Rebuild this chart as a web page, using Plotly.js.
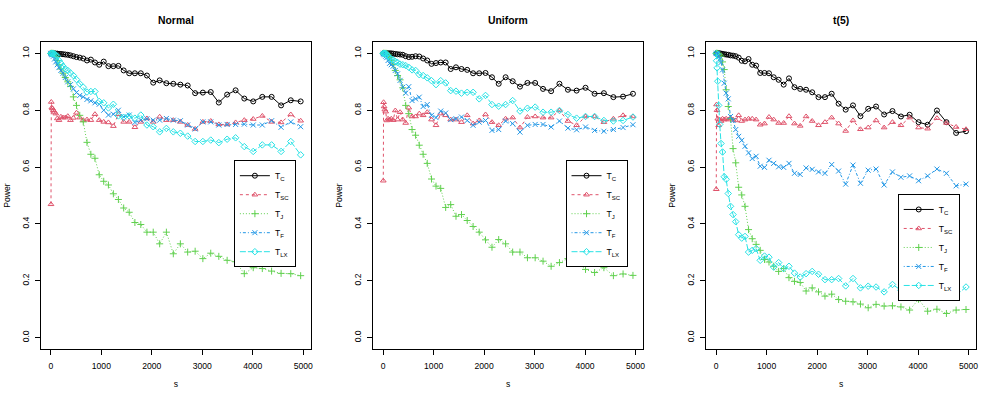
<!DOCTYPE html>
<html>
<head>
<meta charset="utf-8">
<script src="https://cdn.plot.ly/plotly-3.0.1.min.js"></script>
<style>
  html, body { margin: 0; padding: 0; background: #fff; }
  #chart { width: 996px; height: 401px; }
</style>
</head>
<body>
<div id="chart"></div>
<script>
// sample sizes (x axis)
var s = [2, 8, 18, 32, 50, 71, 97, 127, 160, 198,
	240, 285, 335, 388, 446, 507, 572, 642, 715, 792,
	873, 958, 1047, 1140, 1238, 1338, 1443, 1552, 1665, 1782,
	1903, 2028, 2156, 2289, 2426, 2566, 2711, 2859, 3012, 3168,
	3328, 3493, 3661, 3833, 4010, 4190, 4374, 4562, 4754, 4950];

// Normal
var normalTC = [1.0, 1.0, 1.0, 1.0, 1.0, 1.0, 0.999, 0.999, 0.998, 0.998,
	0.997, 0.996, 0.995, 0.993, 0.99, 0.987, 0.985, 0.982, 0.975, 0.978,
	0.968, 0.96, 0.971, 0.955, 0.955, 0.956, 0.94, 0.93, 0.93, 0.93,
	0.922, 0.897, 0.905, 0.895, 0.893, 0.89, 0.887, 0.86, 0.862, 0.864,
	0.827, 0.855, 0.87, 0.841, 0.831, 0.847, 0.847, 0.817, 0.835, 0.831];
var normalTSC = [0.469, 0.829, 0.809, 0.806, 0.8, 0.794, 0.788, 0.771, 0.765, 0.777,
	0.774, 0.774, 0.779, 0.765, 0.773, 0.791, 0.774, 0.765, 0.767, 0.765,
	0.786, 0.765, 0.759, 0.757, 0.744, 0.786, 0.759, 0.759, 0.74, 0.759,
	0.771, 0.759, 0.777, 0.765, 0.765, 0.759, 0.748, 0.734, 0.759, 0.762,
	0.75, 0.75, 0.757, 0.765, 0.769, 0.78, 0.759, 0.757, 0.785, 0.763];
var normalTJ = [1.0, 1.0, 1.0, 1.0, 1.0, 0.998, 0.99, 0.975, 0.96, 0.945,
	0.93, 0.915, 0.9, 0.884, 0.847, 0.817, 0.782, 0.759, 0.687, 0.645,
	0.631, 0.573, 0.55, 0.537, 0.506, 0.486, 0.456, 0.441, 0.405, 0.398,
	0.371, 0.371, 0.33, 0.371, 0.295, 0.33, 0.301, 0.304, 0.278, 0.297,
	0.286, 0.272, 0.267, 0.225, 0.246, 0.243, 0.234, 0.226, 0.225, 0.218];
var normalTF = [1.0, 0.999, 0.997, 0.995, 0.99, 0.98, 0.97, 0.96, 0.95, 0.94,
	0.93, 0.915, 0.9, 0.89, 0.875, 0.862, 0.852, 0.847, 0.838, 0.833,
	0.826, 0.821, 0.8, 0.783, 0.786, 0.8, 0.777, 0.783, 0.757, 0.765,
	0.77, 0.765, 0.765, 0.771, 0.765, 0.763, 0.748, 0.734, 0.759, 0.759,
	0.748, 0.75, 0.75, 0.751, 0.748, 0.748, 0.763, 0.74, 0.759, 0.742];
var normalTLX = [1.0, 1.0, 1.0, 1.0, 1.0, 0.998, 0.995, 0.99, 0.975, 0.965,
	0.955, 0.945, 0.94, 0.931, 0.922, 0.908, 0.893, 0.881, 0.864, 0.866,
	0.866, 0.831, 0.826, 0.808, 0.821, 0.78, 0.775, 0.78, 0.772, 0.783,
	0.748, 0.742, 0.724, 0.736, 0.724, 0.719, 0.709, 0.69, 0.69, 0.695,
	0.686, 0.698, 0.703, 0.672, 0.655, 0.678, 0.678, 0.655, 0.69, 0.643];

// Uniform
var unifTC = [1.0, 1.0, 1.0, 1.0, 1.0, 1.0, 1.0, 1.0, 1.0, 0.999,
	0.998, 0.997, 0.996, 0.995, 0.99, 0.987, 0.988, 0.99, 0.989, 0.982,
	0.975, 0.963, 0.966, 0.968, 0.968, 0.945, 0.951, 0.945, 0.942, 0.93,
	0.93, 0.931, 0.916, 0.893, 0.916, 0.902, 0.883, 0.896, 0.896, 0.875,
	0.867, 0.893, 0.872, 0.869, 0.879, 0.858, 0.86, 0.846, 0.848, 0.858];
var unifTSC = [0.552, 0.828, 0.813, 0.802, 0.795, 0.764, 0.77, 0.767, 0.77, 0.765,
	0.799, 0.767, 0.793, 0.767, 0.755, 0.809, 0.778, 0.778, 0.788, 0.782,
	0.793, 0.767, 0.747, 0.788, 0.782, 0.767, 0.767, 0.758, 0.782, 0.753,
	0.764, 0.785, 0.758, 0.747, 0.77, 0.774, 0.739, 0.776, 0.778, 0.774,
	0.774, 0.799, 0.762, 0.747, 0.778, 0.778, 0.758, 0.77, 0.782, 0.778];
var unifTJ = [1.0, 1.0, 1.0, 1.0, 1.0, 1.0, 0.995, 0.985, 0.975, 0.96,
	0.94, 0.922, 0.907, 0.879, 0.817, 0.788, 0.732, 0.712, 0.677, 0.645,
	0.613, 0.558, 0.533, 0.525, 0.458, 0.468, 0.427, 0.433, 0.412, 0.391,
	0.371, 0.344, 0.318, 0.345, 0.33, 0.301, 0.301, 0.281, 0.281, 0.269,
	0.251, 0.264, 0.278, 0.266, 0.24, 0.229, 0.246, 0.218, 0.224, 0.219];
var unifTF = [1.0, 0.999, 0.998, 0.995, 0.99, 0.985, 0.975, 0.965, 0.96, 0.955,
	0.94, 0.928, 0.905, 0.881, 0.86, 0.883, 0.834, 0.84, 0.846, 0.813,
	0.82, 0.782, 0.774, 0.797, 0.79, 0.767, 0.77, 0.776, 0.764, 0.747,
	0.758, 0.764, 0.729, 0.732, 0.762, 0.753, 0.723, 0.747, 0.75, 0.75,
	0.741, 0.762, 0.737, 0.731, 0.741, 0.729, 0.726, 0.732, 0.739, 0.749];
var unifTLX = [1.0, 1.0, 1.0, 1.0, 1.0, 0.995, 0.99, 0.985, 0.98, 0.977,
	0.972, 0.968, 0.962, 0.96, 0.957, 0.951, 0.942, 0.94, 0.925, 0.922,
	0.914, 0.904, 0.89, 0.904, 0.896, 0.869, 0.867, 0.86, 0.863, 0.863,
	0.84, 0.852, 0.82, 0.814, 0.82, 0.834, 0.797, 0.807, 0.811, 0.793,
	0.793, 0.799, 0.785, 0.772, 0.778, 0.778, 0.764, 0.762, 0.764, 0.776];

// t(5)
var t5TC = [1.0, 1.0, 1.0, 1.0, 1.0, 1.0, 0.999, 0.998, 0.997, 0.996,
	0.995, 0.993, 0.992, 0.99, 0.985, 0.974, 0.972, 0.98, 0.96, 0.957,
	0.931, 0.931, 0.93, 0.916, 0.907, 0.89, 0.912, 0.881, 0.875, 0.872,
	0.863, 0.846, 0.846, 0.858, 0.823, 0.802, 0.817, 0.779, 0.805, 0.813,
	0.785, 0.797, 0.778, 0.784, 0.758, 0.749, 0.799, 0.758, 0.72, 0.726];
var t5TSC = [0.522, 0.82, 0.8, 0.77, 0.747, 0.767, 0.762, 0.77, 0.767, 0.77,
	0.767, 0.772, 0.767, 0.764, 0.782, 0.762, 0.767, 0.77, 0.77, 0.767,
	0.749, 0.753, 0.776, 0.767, 0.755, 0.755, 0.779, 0.753, 0.745, 0.778,
	0.762, 0.747, 0.758, 0.774, 0.753, 0.727, 0.764, 0.733, 0.739, 0.764,
	0.739, 0.758, 0.747, 0.774, 0.739, 0.735, 0.772, 0.755, 0.741, 0.733];
var t5TJ = [1.0, 1.0, 1.0, 1.0, 0.998, 0.995, 0.99, 0.97, 0.943, 0.872,
	0.813, 0.77, 0.665, 0.615, 0.529, 0.502, 0.462, 0.38, 0.348, 0.328,
	0.307, 0.275, 0.266, 0.251, 0.233, 0.243, 0.211, 0.198, 0.194, 0.164,
	0.175, 0.161, 0.146, 0.153, 0.134, 0.128, 0.126, 0.118, 0.105, 0.117,
	0.111, 0.112, 0.108, 0.097, 0.135, 0.093, 0.1, 0.085, 0.097, 0.099];
var t5TF = [1.0, 1.0, 0.999, 0.997, 0.99, 0.98, 0.968, 0.942, 0.895, 0.86,
	0.84, 0.778, 0.764, 0.732, 0.708, 0.694, 0.673, 0.65, 0.63, 0.638,
	0.603, 0.599, 0.624, 0.613, 0.601, 0.599, 0.613, 0.578, 0.574, 0.597,
	0.592, 0.583, 0.578, 0.609, 0.586, 0.54, 0.607, 0.543, 0.589, 0.593,
	0.537, 0.583, 0.564, 0.569, 0.552, 0.569, 0.593, 0.578, 0.534, 0.54];
var t5TLX = [1.0, 0.974, 0.949, 0.902, 0.817, 0.75, 0.683, 0.653, 0.566, 0.557,
	0.507, 0.462, 0.433, 0.408, 0.362, 0.35, 0.356, 0.301, 0.307, 0.313,
	0.272, 0.287, 0.283, 0.248, 0.264, 0.243, 0.251, 0.227, 0.213, 0.225,
	0.233, 0.223, 0.204, 0.204, 0.208, 0.182, 0.208, 0.175, 0.181, 0.178,
	0.161, 0.187, 0.167, 0.187, 0.173, 0.173, 0.155, 0.178, 0.149, 0.178];

var panelTitles = ["Normal", "Uniform", "t(5)"];
var seriesNames = ["T<sub>C</sub>", "T<sub>SC</sub>", "T<sub>J</sub>", "T<sub>F</sub>", "T<sub>LX</sub>"];
var xTicks = [0, 1000, 2000, 3000, 4000, 5000];
var yTicks = [0, 0.2, 0.4, 0.6, 0.8, 1.0];

var panels = [
	[normalTC, normalTSC, normalTJ, normalTF, normalTLX],
	[unifTC, unifTSC, unifTJ, unifTF, unifTLX],
	[t5TC, t5TSC, t5TJ, t5TF, t5TLX],
];

// R-like styles
var colors = ["#000000", "#DF536B", "#61D04F", "#2297E6", "#28E2E5"];
var dashes = ["solid", "3px,3px", "1px,2px", "1px,2px,3px,2px", "6px,2px"];
var symbols = ["circle-open", "triangle-up-open", "cross-thin-open", "x-thin-open", "diamond-open"];

var font = "Liberation Sans, Arial, sans-serif";
var domains = [[0, 0.2884], [0.3554, 0.6438], [0.7115, 1]];
var legendPos = [
	{ x: 0.2726, y: 0.615 },
	{ x: 0.6273, y: 0.615 },
	{ x: 0.9826, y: 0.505 },
];

var data = [];
panels.forEach(function (series, p) {
	var ax = p === 0 ? "" : String(p + 1);
	series.forEach(function (vals, i) {
		data.push({
			x: s,
			y: vals,
			name: seriesNames[i],
			type: "scatter",
			mode: "lines+markers",
			xaxis: "x" + ax,
			yaxis: "y" + ax,
			legend: "legend" + ax,
			line: { color: colors[i], width: 1, dash: dashes[i] },
			marker: {
				symbol: symbols[i],
				size: 5,
				color: colors[i],
				line: { color: colors[i], width: 1 },
			},
			hoverinfo: "skip",
		});
	});
});

var layout = {
	width: 996,
	height: 401,
	margin: { l: 41, r: 20, t: 42, b: 52 },
	paper_bgcolor: "#fff",
	plot_bgcolor: "#fff",
	font: { family: font, size: 8.6, color: "#000" },
	showlegend: true,
	annotations: [],
};

panels.forEach(function (series, p) {
	var ax = p === 0 ? "" : String(p + 1);
	layout["xaxis" + ax] = {
		domain: domains[p],
		anchor: "y" + ax,
		range: [-196, 5148],
		tickvals: xTicks,
		ticks: "outside",
		ticklen: 5,
		tickcolor: "#000",
		showline: true,
		mirror: true,
		linecolor: "#000",
		linewidth: 1,
		showgrid: false,
		zeroline: false,
		ticklabelstandoff: 4,
		title: { text: "s", standoff: 10, font: { size: 8.6 } },
	};
	layout["yaxis" + ax] = {
		domain: [0, 1],
		anchor: "x" + ax,
		range: [-0.04, 1.04],
		tickvals: yTicks,
		tickformat: ".1f",
		tickangle: -90,
		ticks: "outside",
		ticklen: 5,
		tickcolor: "#000",
		showline: true,
		mirror: true,
		linecolor: "#000",
		linewidth: 1,
		showgrid: false,
		zeroline: false,
		ticklabelstandoff: 3,
		title: { text: "Power", standoff: 8, font: { size: 8.6 } },
	};
	layout["legend" + ax] = {
		x: legendPos[p].x,
		y: legendPos[p].y,
		xanchor: "right",
		yanchor: "top",
		bgcolor: "#fff",
		bordercolor: "#000",
		borderwidth: 1,
		itemwidth: 30,
		font: { size: 8.6, color: "#000" },
	};
	layout.annotations.push({
		text: "<b>" + panelTitles[p] + "</b>",
		xref: "x" + ax + " domain",
		yref: "paper",
		x: 0.5,
		y: 1.069,
		yanchor: "middle",
		showarrow: false,
		font: { size: 10.4, color: "#000" },
	});
});

var config = {
	responsive: false,
	displayModeBar: false,
	staticPlot: true,
};

Plotly.newPlot("chart", data, layout, config);
</script>
</body>
</html>
